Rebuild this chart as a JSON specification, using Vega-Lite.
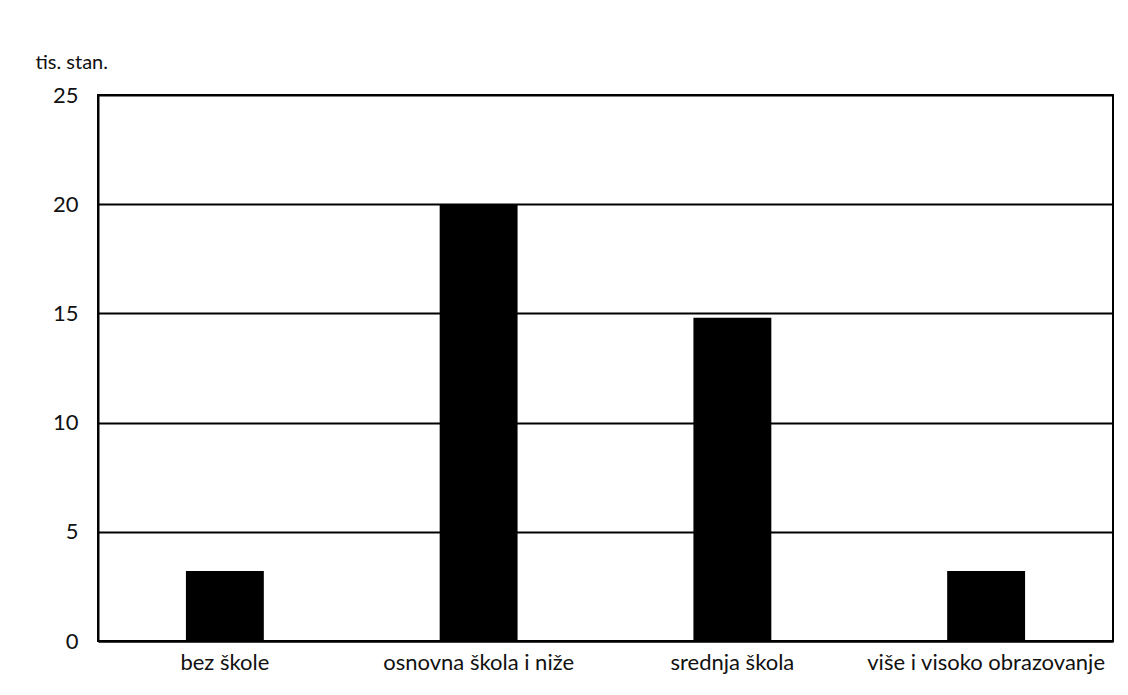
{
  "$schema": "https://vega.github.io/schema/vega-lite/v6.json",
  "width": 1015,
  "height": 546,
  "autosize": {"type": "none"},
  "padding": {"left": 98, "top": 95, "right": 15, "bottom": 54},
  "background": "white",
  "config": {
    "font": "Lato",
    "view": {"stroke": "black", "strokeWidth": 2}
  },
  "data": {
    "values": [
      {"kategorija": "bez škole", "vrijednost": 3.2},
      {"kategorija": "osnovna škola i niže", "vrijednost": 20.0},
      {"kategorija": "srednja škola", "vrijednost": 14.8},
      {"kategorija": "više i visoko obrazovanje", "vrijednost": 3.2}
    ]
  },
  "mark": {"type": "bar", "color": "black"},
  "encoding": {
    "x": {
      "field": "kategorija",
      "type": "nominal",
      "sort": null,
      "scale": {"paddingInner": 0.693, "paddingOuter": 0.3465},
      "axis": {
        "title": null,
        "labelAngle": 0,
        "labelFontSize": 22,
        "labelColor": "#111",
        "labelPadding": 11,
        "labelLimit": 0,
        "ticks": false,
        "domainColor": "black",
        "domainWidth": 2
      }
    },
    "y": {
      "field": "vrijednost",
      "type": "quantitative",
      "scale": {"domain": [0, 25], "nice": false},
      "axis": {
        "values": [0, 5, 10, 15, 20, 25],
        "title": "tis. stan.",
        "titleAngle": 0,
        "titleAlign": "left",
        "titleBaseline": "middle",
        "titleX": -63,
        "titleY": -33,
        "titleFontSize": 20,
        "titleFontWeight": "normal",
        "titleColor": "#111",
        "labelFontSize": 22,
        "labelColor": "#111",
        "labelPadding": 20,
        "ticks": false,
        "domainColor": "black",
        "domainWidth": 2,
        "grid": true,
        "gridColor": "black",
        "gridWidth": 2,
        "gridOpacity": 1
      }
    }
  }
}
